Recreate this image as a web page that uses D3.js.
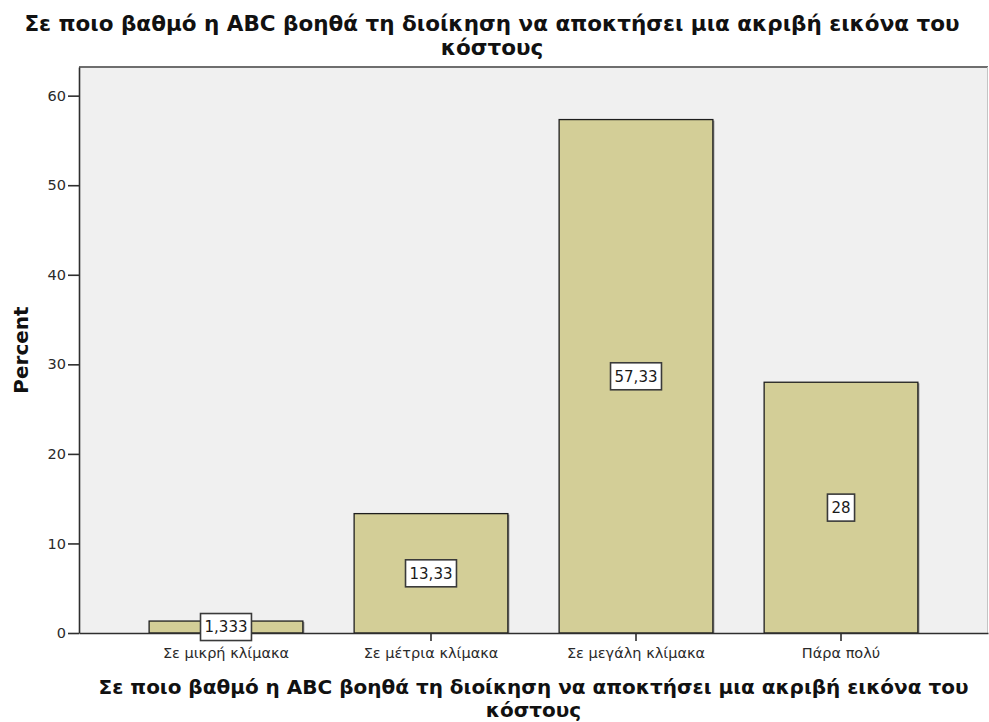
<!DOCTYPE html>
<html>
<head>
<meta charset="utf-8">
<script src="https://cdn.jsdelivr.net/npm/d3@7"></script>
<style>
  html, body { margin: 0; padding: 0; background: #ffffff; }
  svg { display: block; }
</style>
</head>
<body>
<svg id="chart" width="989" height="722"></svg>
<script>
// Categories (answers) and percentage of respondents for each
const categories = ["Σε μικρή κλίμακα", "Σε μέτρια κλίμακα", "Σε μεγάλη κλίμακα", "Πάρα πολύ"];
const percents = [1.333, 13.33, 57.33, 28];
const yTicks = [0, 10, 20, 30, 40, 50, 60];
const titleLines = ["Σε ποιο βαθμό η ABC βοηθά τη διοίκηση να αποκτήσει μια ακριβή εικόνα του", "κόστους"];
const yAxisTitle = "Percent";

const FONT = "'DejaVu Sans', Verdana, sans-serif";
const svg = d3.select("#chart");
const plot = { left: 79, right: 988, top: 67, bottom: 633 };

const x = d3.scaleBand()
  .domain(categories)
  .range([plot.left, plot.right])
  .paddingInner(0.25)
  .paddingOuter(0.342);

const y = d3.scaleLinear()
  .domain([0, 63.2])
  .range([plot.bottom, plot.top]);

// Plot background and frame
svg.append("rect")
  .attr("x", plot.left).attr("y", plot.top)
  .attr("width", plot.right - plot.left).attr("height", plot.bottom - plot.top)
  .attr("fill", "#f0f0f0");
svg.append("line")
  .attr("x1", plot.left).attr("x2", plot.right)
  .attr("y1", plot.top).attr("y2", plot.top)
  .attr("stroke", "#6e6e6e").attr("stroke-width", 2);
svg.append("line")
  .attr("x1", plot.right - 0.5).attr("x2", plot.right - 0.5)
  .attr("y1", plot.top).attr("y2", plot.bottom)
  .attr("stroke", "#c4c4c4").attr("stroke-width", 1);

// Bars (with a thin drop shadow on the right)
const bars = svg.append("g");
bars.selectAll("rect.shadow")
  .data(percents)
  .join("rect")
  .attr("class", "shadow")
  .attr("x", (d, i) => x(categories[i]) + 1.5)
  .attr("y", d => y(d) + 1)
  .attr("width", x.bandwidth())
  .attr("height", d => y(0) - y(d) - 1)
  .attr("fill", "#8f8f8f");
bars.selectAll("rect.bar")
  .data(percents)
  .join("rect")
  .attr("class", "bar")
  .attr("x", (d, i) => x(categories[i]))
  .attr("y", d => y(d))
  .attr("width", x.bandwidth())
  .attr("height", d => y(0) - y(d))
  .attr("fill", "#d3ce97")
  .attr("stroke", "#1e1e1e")
  .attr("stroke-width", 1.3);

// Axes
const yAxis = svg.append("g")
  .attr("transform", `translate(${plot.left},0)`)
  .call(d3.axisLeft(y).tickValues(yTicks).tickSize(11).tickSizeOuter(0).tickPadding(2).tickFormat(d3.format("d")));
yAxis.select(".domain").attr("stroke", "#2e2e2e").attr("stroke-width", 1.6);
yAxis.selectAll(".tick line").attr("stroke", "#2e2e2e").attr("stroke-width", 1.6);
yAxis.selectAll(".tick text")
  .attr("fill", "#2a2a2a")
  .style("font-family", FONT)
  .style("font-size", "14.5px");

const xAxis = svg.append("g")
  .attr("transform", `translate(0,${plot.bottom})`)
  .call(d3.axisBottom(x).tickSize(8).tickSizeOuter(0).tickPadding(7));
xAxis.select(".domain").attr("stroke", "#2e2e2e").attr("stroke-width", 1.6);
xAxis.selectAll(".tick line").attr("stroke", "#2e2e2e").attr("stroke-width", 1.6);
xAxis.selectAll(".tick text")
  .attr("fill", "#2a2a2a")
  .style("font-family", FONT)
  .style("font-size", "14.5px");

// Value labels in boxes at the middle of each bar
const labelFmt = v => String(v).replace(".", ",");
const labels = svg.append("g")
  .selectAll("g")
  .data(percents)
  .join("g")
  .attr("transform", (d, i) => `translate(${x(categories[i]) + x.bandwidth() / 2},${y(d / 2)})`);
labels.append("rect")
  .attr("fill", "#ffffff")
  .attr("stroke", "#3a3a3a")
  .attr("stroke-width", 1.6);
labels.append("text")
  .attr("text-anchor", "middle")
  .attr("dy", "0.36em")
  .attr("fill", "#1a1a1a")
  .style("font-family", FONT)
  .style("font-size", "15px")
  .text(labelFmt)
  .each(function () {
    const w = this.getComputedTextLength() + 8;
    d3.select(this.previousSibling)
      .attr("x", -w / 2).attr("y", -13.5)
      .attr("width", w).attr("height", 27);
  });

// Chart title
svg.append("text")
  .attr("text-anchor", "middle")
  .attr("fill", "#111")
  .style("font-family", FONT)
  .style("font-weight", "bold")
  .style("font-size", "21.5px")
  .selectAll("tspan")
  .data(titleLines)
  .join("tspan")
  .attr("x", 492)
  .attr("y", (d, i) => 31 + i * 24)
  .text(d => d);

// X axis title
svg.append("text")
  .attr("text-anchor", "middle")
  .attr("fill", "#111")
  .style("font-family", FONT)
  .style("font-weight", "bold")
  .style("font-size", "20px")
  .selectAll("tspan")
  .data(titleLines)
  .join("tspan")
  .attr("x", (plot.left + plot.right) / 2)
  .attr("y", (d, i) => 694 + i * 23)
  .text(d => d);

// Y axis title
svg.append("text")
  .attr("transform", `translate(28,${(plot.top + plot.bottom) / 2}) rotate(-90)`)
  .attr("text-anchor", "middle")
  .attr("fill", "#111")
  .style("font-family", FONT)
  .style("font-weight", "bold")
  .style("font-size", "20px")
  .text(yAxisTitle);
</script>
</body>
</html>
